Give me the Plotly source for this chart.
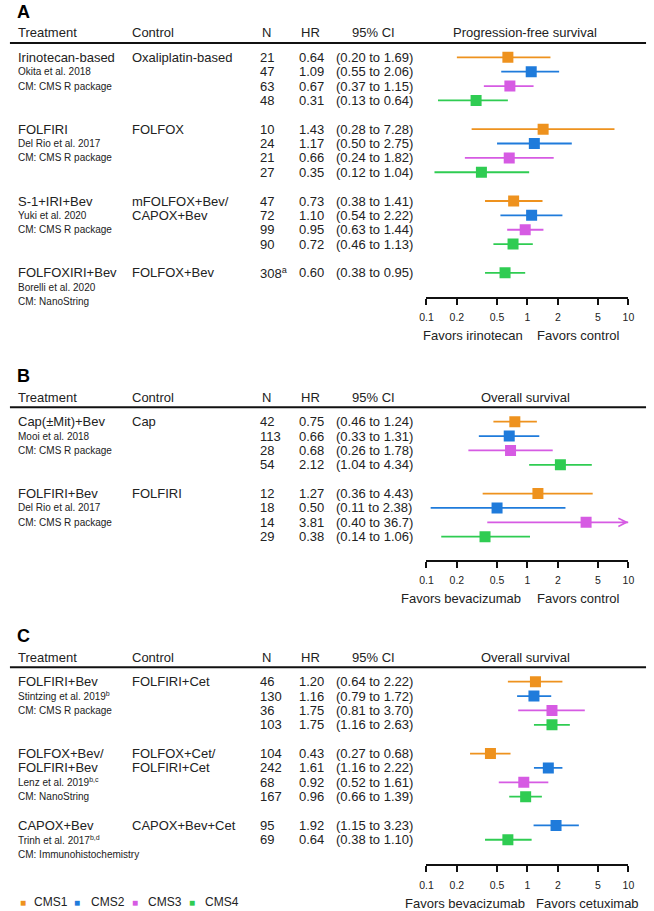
import math
import plotly.graph_objects as go

W, H = 654, 911
FONT = "Liberation Sans, Arial, Helvetica, sans-serif"
TXT = "#222222"

CMS_NAMES = ["CMS1", "CMS2", "CMS3", "CMS4"]
CMS_COLORS = ["#EE921E", "#1F7BDB", "#D65BE3", "#2FCC52"]

TICK_VALS = [0.1, 0.2, 0.5, 1, 2, 5, 10]
TICK_TEXT = ["0.1", "0.2", "0.5", "1", "2", "5", "10"]

# ---------------- Panel A: progression-free survival ----------------
A_treatment = [["Irinotecan-based"], ["FOLFIRI"], ["S-1+IRI+Bev"], ["FOLFOXIRI+Bev"]]
A_control = [["Oxaliplatin-based"], ["FOLFOX"], ["mFOLFOX+Bev/", "CAPOX+Bev"], ["FOLFOX+Bev"]]
A_study = ["Okita et al. 2018", "Del Rio et al. 2017", "Yuki et al. 2020", "Borelli et al. 2020"]
A_method = ["CM: CMS R package", "CM: CMS R package", "CM: CMS R package", "CM: NanoString"]
A_cms = [[1, 2, 3, 4], [1, 2, 3, 4], [1, 2, 3, 4], [4]]
A_n = [["21", "47", "63", "48"], ["10", "24", "21", "27"], ["47", "72", "99", "90"], ["308<sup>a</sup>"]]
A_hr = [[0.64, 1.09, 0.67, 0.31], [1.43, 1.17, 0.66, 0.35], [0.73, 1.10, 0.95, 0.72], [0.60]]
A_lo = [[0.20, 0.55, 0.37, 0.13], [0.28, 0.50, 0.24, 0.12], [0.38, 0.54, 0.63, 0.46], [0.38]]
A_hi = [[1.69, 2.06, 1.15, 0.64], [7.28, 2.75, 1.82, 1.04], [1.41, 2.22, 1.44, 1.13], [0.95]]

# ---------------- Panel B: overall survival (bevacizumab vs control) ----------------
B_treatment = [["Cap(\u00b1Mit)+Bev"], ["FOLFIRI+Bev"]]
B_control = [["Cap"], ["FOLFIRI"]]
B_study = ["Mooi et al. 2018", "Del Rio et al. 2017"]
B_method = ["CM: CMS R package", "CM: CMS R package"]
B_cms = [[1, 2, 3, 4], [1, 2, 3, 4]]
B_n = [["42", "113", "28", "54"], ["12", "18", "14", "29"]]
B_hr = [[0.75, 0.66, 0.68, 2.12], [1.27, 0.50, 3.81, 0.38]]
B_lo = [[0.46, 0.33, 0.26, 1.04], [0.36, 0.11, 0.40, 0.14]]
B_hi = [[1.24, 1.31, 1.78, 4.34], [4.43, 2.38, 36.7, 1.06]]

# ---------------- Panel C: overall survival (bevacizumab vs cetuximab) ----------------
C_treatment = [["FOLFIRI+Bev"], ["FOLFOX+Bev/", "FOLFIRI+Bev"], ["CAPOX+Bev"]]
C_control = [["FOLFIRI+Cet"], ["FOLFOX+Cet/", "FOLFIRI+Cet"], ["CAPOX+Bev+Cet"]]
C_study = ["Stintzing et al. 2019<sup>b</sup>", "Lenz et al. 2019<sup>b,c</sup>", "Trinh et al. 2017<sup>b,d</sup>"]
C_method = ["CM: CMS R package", "CM: NanoString", "CM: Immunohistochemistry"]
C_cms = [[1, 2, 3, 4], [1, 2, 3, 4], [2, 4]]
C_n = [["46", "130", "36", "103"], ["104", "242", "68", "167"], ["95", "69"]]
C_hr = [[1.20, 1.16, 1.75, 1.75], [0.43, 1.61, 0.92, 0.96], [1.92, 0.64]]
C_lo = [[0.64, 0.79, 0.81, 1.16], [0.27, 1.16, 0.52, 0.66], [1.15, 0.38]]
C_hi = [[2.22, 1.72, 3.70, 2.63], [0.68, 2.22, 1.61, 1.39], [3.23, 1.10]]

panels = [
    dict(letter="A", title="Progression-free survival", left="Favors irinotecan", right="Favors control",
         treatment=A_treatment, control=A_control, study=A_study, method=A_method,
         cms=A_cms, n=A_n, hr=A_hr, lo=A_lo, hi=A_hi,
         row0=57.3, axis=296.6, fav_l=527, fav_r=540),
    dict(letter="B", title="Overall survival", left="Favors bevacizumab", right="Favors control",
         treatment=B_treatment, control=B_control, study=B_study, method=B_method,
         cms=B_cms, n=B_n, hr=B_hr, lo=B_lo, hi=B_hi,
         row0=421.7, axis=559.5, fav_l=525, fav_r=540),
    dict(letter="C", title="Overall survival", left="Favors bevacizumab", right="Favors cetuximab",
         treatment=C_treatment, control=C_control, study=C_study, method=C_method,
         cms=C_cms, n=C_n, hr=C_hr, lo=C_lo, hi=C_hi,
         row0=681.7, axis=864.0, fav_l=530, fav_r=539),
]

PITCH = 14.37
GROUP_STEP = 5
X_LEFT, X_RIGHT = 428, 634
COL_TREAT, COL_CTRL, COL_N, COL_HR, COL_CI = 10, 127, 257, 297, 335


def fmt(v):
    return f"{v:.1f}" if v >= 10 else f"{v:.2f}"


def py(px):
    return 1 - px / H


def px_x(px):
    return px / W


def text(x, y, s, size=13, anchor="left", bold=False, color=TXT):
    if bold:
        s = f"<b>{s}</b>"
    return dict(xref="paper", yref="paper", x=px_x(x), y=py(y), text=s, showarrow=False,
                xanchor=anchor, yanchor="middle", borderpad=0,
                font=dict(family=FONT, size=size, color=color))


fig = go.Figure()
annotations = []
shapes = []
xmax = TICK_VALS[-1]

for k, p in enumerate(panels, start=1):
    xa = "x" if k == 1 else f"x{k}"
    ya = "y" if k == 1 else f"y{k}"
    row0 = p["row0"]
    header = row0 - PITCH
    bottom_val = (p["axis"] - row0) / PITCH

    def rpx(r, row0=row0):
        return row0 + r * PITCH

    lines_x = {c: [] for c in range(1, 5)}
    lines_y = {c: [] for c in range(1, 5)}
    pts_x = {c: [] for c in range(1, 5)}
    pts_y = {c: [] for c in range(1, 5)}
    arrows = []

    for g in range(len(p["treatment"])):
        start = g * GROUP_STEP
        for j, line in enumerate(p["treatment"][g]):
            annotations.append(text(COL_TREAT, rpx(start + j), line))
        for j, line in enumerate(p["control"][g]):
            annotations.append(text(COL_CTRL, rpx(start + j), line))
        nt = len(p["treatment"][g])
        annotations.append(text(COL_TREAT, rpx(start + nt), p["study"][g], size=10))
        annotations.append(text(COL_TREAT, rpx(start + nt + 1), p["method"][g], size=10))
        for i, c in enumerate(p["cms"][g]):
            r = start + i
            hr, lo, hi = p["hr"][g][i], p["lo"][g][i], p["hi"][g][i]
            annotations.append(text(COL_N, rpx(r), p["n"][g][i]))
            annotations.append(text(COL_HR, rpx(r), fmt(hr)))
            annotations.append(text(COL_CI, rpx(r), f"({fmt(lo)} to {fmt(hi)})"))
            lines_x[c] += [lo, min(hi, xmax), None]
            lines_y[c] += [r, r, None]
            pts_x[c].append(hr)
            pts_y[c].append(r)
            if hi > xmax:
                arrows.append((c, r))

    for c in range(1, 5):
        col = CMS_COLORS[c - 1]
        if lines_x[c]:
            fig.add_trace(go.Scatter(x=lines_x[c], y=lines_y[c], mode="lines", xaxis=xa, yaxis=ya,
                                     line=dict(color=col, width=1.8), showlegend=False, hoverinfo="skip"))
    for c in range(1, 5):
        col = CMS_COLORS[c - 1]
        if pts_x[c]:
            fig.add_trace(go.Scatter(x=pts_x[c], y=pts_y[c], mode="markers", xaxis=xa, yaxis=ya,
                                     marker=dict(symbol="square", size=11, color=col, line=dict(width=0)),
                                     name=CMS_NAMES[c - 1], showlegend=False))
    for c, r in arrows:
        annotations.append(dict(xref=xa, yref=ya, x=math.log10(xmax), y=r, ax=-8, ay=0, text="",
                                showarrow=True, arrowhead=5, arrowsize=0.9, arrowwidth=1.8,
                                arrowcolor=CMS_COLORS[c - 1], standoff=0))

    axis_key = "xaxis" if k == 1 else f"xaxis{k}"
    yaxis_key = "yaxis" if k == 1 else f"yaxis{k}"
    fig.update_layout(**{
        axis_key: dict(type="log", range=[-1, 1], domain=[X_LEFT / W, X_RIGHT / W], anchor=ya,
                       showgrid=False, zeroline=False, showline=True, linecolor="#111111", linewidth=2,
                       ticks="outside", ticklen=6, tickwidth=2, tickcolor="#111111",
                       tickvals=TICK_VALS, ticktext=TICK_TEXT, ticklabelstandoff=4,
                       tickfont=dict(family=FONT, size=10.5, color=TXT), fixedrange=True),
        yaxis_key: dict(domain=[py(p["axis"]), py(header)], range=[bottom_val, -1], visible=False,
                        anchor=xa, fixedrange=True),
    })

    shapes.append(dict(type="line", xref="paper", yref="paper", x0=px_x(3), x1=px_x(652),
                       y0=py(header), y1=py(header), line=dict(color="#111111", width=2)))
    shapes.append(dict(type="line", xref=xa, yref=f"{ya} domain", x0=0, x1=0, y0=0, y1=1,
                       line=dict(color="#111111", width=2), layer="below"))

    hy = header - 10
    annotations.append(text(COL_TREAT, hy, "Treatment"))
    annotations.append(text(COL_CTRL, hy, "Control"))
    annotations.append(text(259, hy, "N"))
    annotations.append(text(299, hy, "HR"))
    annotations.append(text(351, hy, "95% CI"))
    annotations.append(text((X_LEFT + X_RIGHT) / 2 - 2, hy, p["title"], anchor="center"))
    annotations.append(text(9, header - 31, p["letter"], size=18, bold=True, color="#000000"))
    fy = p["axis"] + 39
    annotations.append(text(p["fav_l"], fy, p["left"], anchor="right"))
    annotations.append(text(p["fav_r"], fy, p["right"], anchor="left"))

# legend (colour keys)
leg_key_x = [16, 71, 131, 189]
leg_txt_x = [27, 85, 143, 201]
for i, name in enumerate(CMS_NAMES):
    annotations.append(text(leg_key_x[i], 902, "\u25a0", size=10, anchor="center", color=CMS_COLORS[i]))
    annotations.append(text(leg_txt_x[i], 902, name, size=12))

fig.update_layout(width=W, height=H, autosize=False, margin=dict(l=0, r=0, t=0, b=0, pad=0),
                  paper_bgcolor="white", plot_bgcolor="white", showlegend=False,
                  annotations=annotations, shapes=shapes, font=dict(family=FONT, color=TXT))

fig.write_html("out.html", config={"displayModeBar": False},
               post_script="document.body.style.margin='0px';document.body.style.overflow='hidden';")
